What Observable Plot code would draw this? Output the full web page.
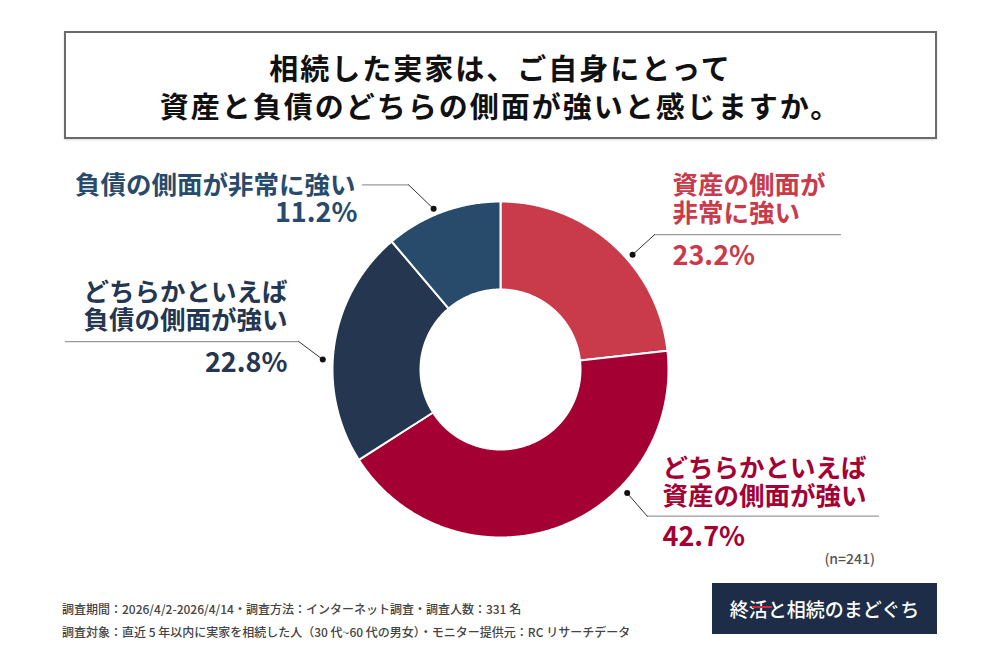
<!DOCTYPE html>
<html><head><meta charset="utf-8">
<script src="https://cdn.jsdelivr.net/npm/d3@7"></script>
<script src="https://cdn.jsdelivr.net/npm/@observablehq/plot@0.6"></script>
<style>
body{margin:0;background:#fff;font-family:"Noto Sans CJK JP","Noto Sans",sans-serif;}
#page{position:relative;width:1000px;height:667px;overflow:hidden;background:#fff;}
#title{position:absolute;left:64px;top:31px;width:873px;height:108px;box-sizing:border-box;border:2px solid #6b6b6b;text-align:center;font-weight:700;font-size:29px;letter-spacing:2px;color:#111;padding-top:15px;line-height:38px;box-shadow:0 1px 2px rgba(0,0,0,.15);}
#chart{position:absolute;left:0;top:150px;}
.foot{position:absolute;left:62px;font-size:12px;color:#444;font-weight:500;line-height:18px;white-space:nowrap;}
#n{position:absolute;right:125px;top:548px;font-size:14px;color:#555;font-weight:500;}
#logo{position:absolute;left:712px;top:583px;width:225px;height:51px;background:#1d2c47;color:#fff;font-size:19px;line-height:51px;text-align:center;font-weight:500;letter-spacing:0px;}
#logoline{position:absolute;left:752px;top:606px;width:20px;height:2px;background:#d0283c;}
</style></head>
<body><div id="page">
<div id="title"><div>相続した実家は、ご自身にとって</div><div>資産と負債のどちらの側面が強いと感じますか。</div></div>
<div id="chart"></div>
<div id="n">(n=241)</div>
<div class="foot" style="top:600px">調査期間：2026/4/2-2026/4/14・調査方法：インターネット調査・調査人数：331 名</div>
<div class="foot" style="top:623px">調査対象：直近 5 年以内に実家を相続した人（30 代~60 代の男女）・モニター提供元：RC リサーチデータ</div>
<div id="logo">終活と相続のまどぐち</div>
<div id="logoline"></div>
</div>
<script>
// ---- data ----
const categories = ["資産の側面が非常に強い", "どちらかといえば資産の側面が強い", "どちらかといえば負債の側面が強い", "負債の側面が非常に強い"];
const labels = ["資産の側面が\n非常に強い", "どちらかといえば\n資産の側面が強い", "どちらかといえば\n負債の側面が強い", "負債の側面が非常に強い"];
const values = [23.2, 42.7, 22.8, 11.2];
const sliceColors = ["#c93a4b", "#a50034", "#243650", "#284b6b"];

// ---- layout (annotation placement, not data) ----
const W = 1000, H = 425;
const cx = 500, cy = 219, R = 168, r0 = 80;
const layout = [
  {deg: 49,    rad: 175, edx: 22,  edy: -20, endX: 840, side: "start", tx: 672, ty: 49,    py: 106, px: 672},
  {deg: 134.3, rad: 177, edx: 20,  edy: 23,  endX: 878, side: "start", tx: 662, ty: 331.5, py: 387, px: 662},
  {deg: 273.2, rad: 178, edx: -24, edy: -18, endX: 65,  side: "end",   tx: 287, ty: 156,   py: 213, px: 287},
  {deg: 337.4, rad: 174, edx: -25, edy: -24, endX: 362, side: "end",   tx: 355, ty: 35,    py: 63,  px: 357}
];

const rows = categories.map((c, i) => ({category: c, value: values[i], label: labels[i], pct: values[i].toFixed(1) + "%", ...layout[i]}));

// ring polygons from pie angles
const arcs = d3.pie().sort(null).value(d => d.value)(rows);
const ring = arcs.flatMap(p => {
  const pts = [];
  const n = Math.max(2, Math.ceil((p.endAngle - p.startAngle) / (Math.PI / 360)));
  for (let i = 0; i <= n; i++) {
    const a = p.startAngle + (p.endAngle - p.startAngle) * i / n;
    pts.push({category: p.data.category, x: cx + R * Math.sin(a), y: cy - R * Math.cos(a)});
  }
  for (let i = n; i >= 0; i--) {
    const a = p.startAngle + (p.endAngle - p.startAngle) * i / n;
    pts.push({category: p.data.category, x: cx + r0 * Math.sin(a), y: cy - r0 * Math.cos(a)});
  }
  return pts;
});

const dots = rows.map(d => {
  const a = d.deg * Math.PI / 180;
  return {...d, x: cx + d.rad * Math.sin(a), y: cy - d.rad * Math.cos(a)};
});
const diag = dots.flatMap(d => [{category: d.category, x: d.x, y: d.y}, {category: d.category, x: d.x + d.edx, y: d.y + d.edy}]);
const horiz = dots.flatMap(d => [{category: d.category, x: d.x + d.edx, y: d.y + d.edy}, {category: d.category, x: d.endX, y: d.y + d.edy}]);

const left = rows.filter(d => d.side === "end");
const right = rows.filter(d => d.side === "start");
const font = '"Noto Sans CJK JP", sans-serif';
const labelSize = 25.5, pctSize = 27;

const chart = Plot.plot({
  width: W, height: H, margin: 0,
  x: {domain: [0, W], range: [0, W], axis: null},
  y: {domain: [0, H], range: [0, H], axis: null},
  color: {domain: categories, range: sliceColors},
  style: {fontFamily: font, background: "transparent", overflow: "visible"},
  marks: [
    Plot.line(ring, {x: "x", y: "y", z: "category", fill: "category", stroke: "#fff", strokeWidth: 2, curve: "linear-closed"}),
    Plot.line(horiz, {x: "x", y: "y", z: "category", stroke: "#9a9a9a", strokeWidth: 1.2}),
    Plot.line(diag, {x: "x", y: "y", z: "category", stroke: "#333", strokeWidth: 1}),
    Plot.dot(dots, {x: "x", y: "y", r: 3, fill: "#111", stroke: null}),
    Plot.text(right, {x: "tx", y: "ty", text: "label", fill: "category", textAnchor: "start", lineAnchor: "middle", fontSize: labelSize, fontWeight: 700, lineHeight: 28 / labelSize}),
    Plot.text(left, {x: "tx", y: "ty", text: "label", fill: "category", textAnchor: "end", lineAnchor: "middle", fontSize: labelSize, fontWeight: 700, lineHeight: 28 / labelSize}),
    Plot.text(right, {x: "px", y: "py", text: "pct", fill: "category", textAnchor: "start", lineAnchor: "middle", fontSize: pctSize, fontWeight: 700}),
    Plot.text(left, {x: "px", y: "py", text: "pct", fill: "category", textAnchor: "end", lineAnchor: "middle", fontSize: pctSize, fontWeight: 700})
  ]
});
document.getElementById("chart").appendChild(chart);
</script>
</body></html>
